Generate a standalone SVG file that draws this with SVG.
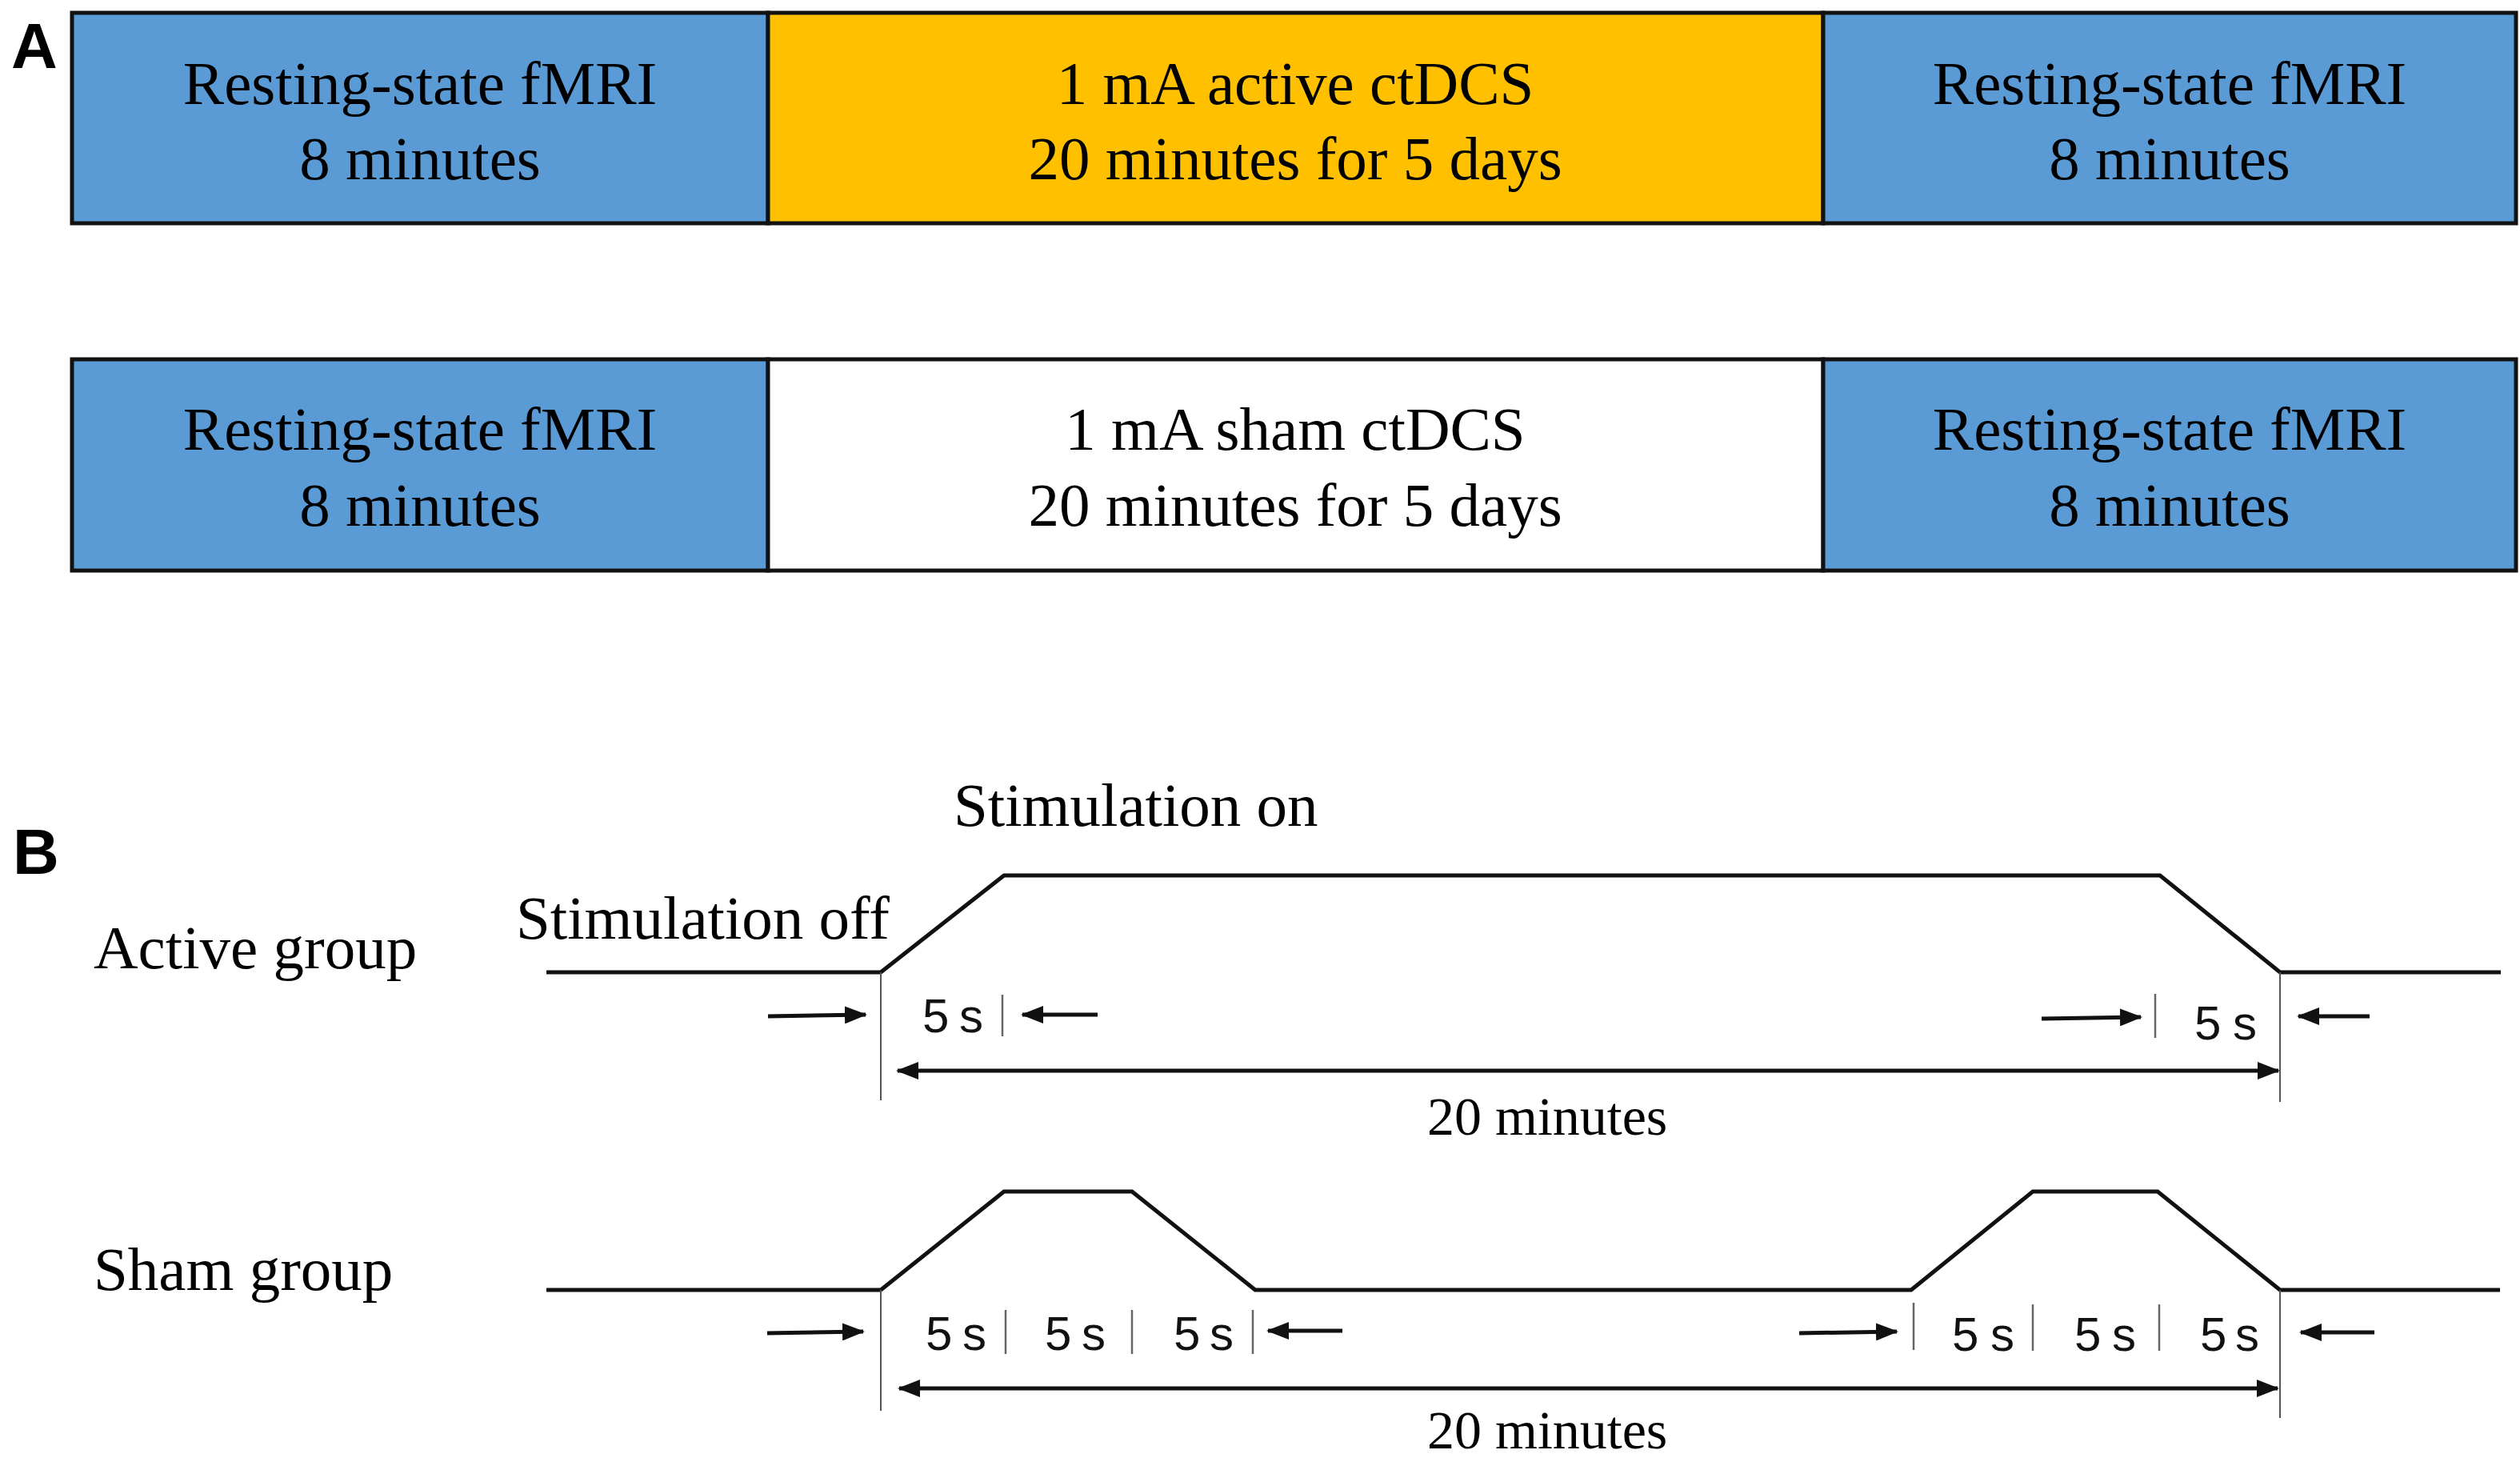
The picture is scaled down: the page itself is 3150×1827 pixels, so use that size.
<svg xmlns="http://www.w3.org/2000/svg" width="3150" height="1827" viewBox="0 0 3150 1827">
<style>
.box{stroke:#111;stroke-width:5}
.blue{fill:#5B9BD5}
.orange{fill:#FFC000}
.white{fill:#FFFFFF}
.bt{font-family:"Liberation Serif","Times New Roman",serif;font-size:77px;fill:#000;text-anchor:middle}
.lbl{font-family:"Liberation Serif","Times New Roman",serif;font-size:77px;fill:#000}
.panel{font-family:"Liberation Sans",Arial,sans-serif;font-weight:bold;font-size:80px;fill:#000}
.five{font-family:"Liberation Sans",Arial,sans-serif;font-size:60px;fill:#111}
.min{font-family:"Liberation Serif","Times New Roman",serif;font-size:68px;fill:#000}
.wave{fill:none;stroke:#111;stroke-width:5;stroke-linejoin:miter}
.arr{fill:none;stroke:#111;stroke-width:5}
.tick{stroke:#666;stroke-width:2.5}
.vline{stroke:#555;stroke-width:2}
</style>
<defs>
<marker id="ah" viewBox="0 0 28 22" refX="26" refY="11" markerWidth="28" markerHeight="22" markerUnits="userSpaceOnUse" orient="auto-start-reverse">
<path d="M0,0 L28,11 L0,22 Z" fill="#111"/>
</marker>
</defs>
<rect width="3150" height="1827" fill="#fff"/>

<text class="panel" x="14" y="85">A</text>
<text class="panel" x="16" y="1092">B</text>

<g id="active-pre">
<rect class="box blue" x="90" y="16" width="870" height="263"/>
<text class="bt" x="525" y="130">Resting-state fMRI</text>
<text class="bt" x="525" y="224">8 minutes</text>
</g>
<g id="active-stim">
<rect class="box orange" x="960" y="16" width="1319" height="263"/>
<text class="bt" x="1619" y="130">1 mA active ctDCS</text>
<text class="bt" x="1619" y="224">20 minutes for 5 days</text>
</g>
<g id="active-post">
<rect class="box blue" x="2279" y="16" width="866" height="263"/>
<text class="bt" x="2712" y="130">Resting-state fMRI</text>
<text class="bt" x="2712" y="224">8 minutes</text>
</g>

<g id="sham-pre">
<rect class="box blue" x="90" y="449" width="870" height="264"/>
<text class="bt" x="525" y="562">Resting-state fMRI</text>
<text class="bt" x="525" y="657">8 minutes</text>
</g>
<g id="sham-stim">
<rect class="box white" x="960" y="449" width="1319" height="264"/>
<text class="bt" x="1619" y="562">1 mA sham ctDCS</text>
<text class="bt" x="1619" y="657">20 minutes for 5 days</text>
</g>
<g id="sham-post">
<rect class="box blue" x="2279" y="449" width="866" height="264"/>
<text class="bt" x="2712" y="562">Resting-state fMRI</text>
<text class="bt" x="2712" y="657">8 minutes</text>
</g>

<g id="labels">
<text class="lbl" x="1192" y="1032">Stimulation on</text>
<text class="lbl" x="645" y="1173">Stimulation off</text>
<text class="lbl" x="117" y="1210">Active group</text>
<text class="lbl" x="117" y="1612">Sham group</text>
</g>

<g id="active-timeline">
<polyline class="wave" points="683,1215 1101,1215 1255,1094 2700,1094 2850,1215 3126,1215"/>
<line class="vline" x1="1101" y1="1215" x2="1101" y2="1375"/>
<line class="vline" x1="2850" y1="1215" x2="2850" y2="1377"/>
<line class="tick" x1="1253" y1="1243" x2="1253" y2="1295"/>
<line class="tick" x1="2694" y1="1242" x2="2694" y2="1297"/>
<text class="five" x="1153" y="1290" textLength="76" lengthAdjust="spacing">5 s</text>
<text class="five" x="2743" y="1299" textLength="78" lengthAdjust="spacing">5 s</text>
<text class="min" x="1784" y="1418">20 minutes</text>
</g>

<g id="sham-timeline">
<polyline class="wave" points="683,1612 1101,1612 1255,1489 1415,1489 1569,1612 2389,1612 2541,1489 2697,1489 2850,1612 3125,1612"/>
<line class="vline" x1="1101" y1="1612" x2="1101" y2="1763"/>
<line class="vline" x1="2850" y1="1612" x2="2850" y2="1772"/>
<line class="tick" x1="1257" y1="1637" x2="1257" y2="1692"/>
<line class="tick" x1="1415" y1="1637" x2="1415" y2="1692"/>
<line class="tick" x1="1566" y1="1637" x2="1566" y2="1692"/>
<line class="tick" x1="2392" y1="1628" x2="2392" y2="1687"/>
<line class="tick" x1="2541" y1="1630" x2="2541" y2="1688"/>
<line class="tick" x1="2699" y1="1630" x2="2699" y2="1688"/>
<text class="five" x="1157" y="1687" textLength="76" lengthAdjust="spacing">5 s</text>
<text class="five" x="1306" y="1687" textLength="76" lengthAdjust="spacing">5 s</text>
<text class="five" x="1467" y="1687" textLength="75" lengthAdjust="spacing">5 s</text>
<text class="five" x="2440" y="1688" textLength="78" lengthAdjust="spacing">5 s</text>
<text class="five" x="2593" y="1688" textLength="77" lengthAdjust="spacing">5 s</text>
<text class="five" x="2750" y="1688" textLength="74" lengthAdjust="spacing">5 s</text>
<text class="min" x="1784" y="1810">20 minutes</text>
</g>

<g id="connectors">
<line class="arr" x1="960" y1="1270" x2="1082" y2="1268" marker-end="url(#ah)"/>
<line class="arr" x1="1372" y1="1268" x2="1278" y2="1268" marker-end="url(#ah)"/>
<line class="arr" x1="2552" y1="1273" x2="2676" y2="1271" marker-end="url(#ah)"/>
<line class="arr" x1="2962" y1="1270" x2="2873" y2="1270" marker-end="url(#ah)"/>
<line class="arr" x1="1122" y1="1338" x2="2848" y2="1338" marker-start="url(#ah)" marker-end="url(#ah)"/>
<line class="arr" x1="959" y1="1666" x2="1079" y2="1664" marker-end="url(#ah)"/>
<line class="arr" x1="1678" y1="1663" x2="1585" y2="1663" marker-end="url(#ah)"/>
<line class="arr" x1="2249" y1="1666" x2="2371" y2="1664" marker-end="url(#ah)"/>
<line class="arr" x1="2968" y1="1665" x2="2876" y2="1665" marker-end="url(#ah)"/>
<line class="arr" x1="1124" y1="1735" x2="2847" y2="1735" marker-start="url(#ah)" marker-end="url(#ah)"/>
</g>
</svg>
